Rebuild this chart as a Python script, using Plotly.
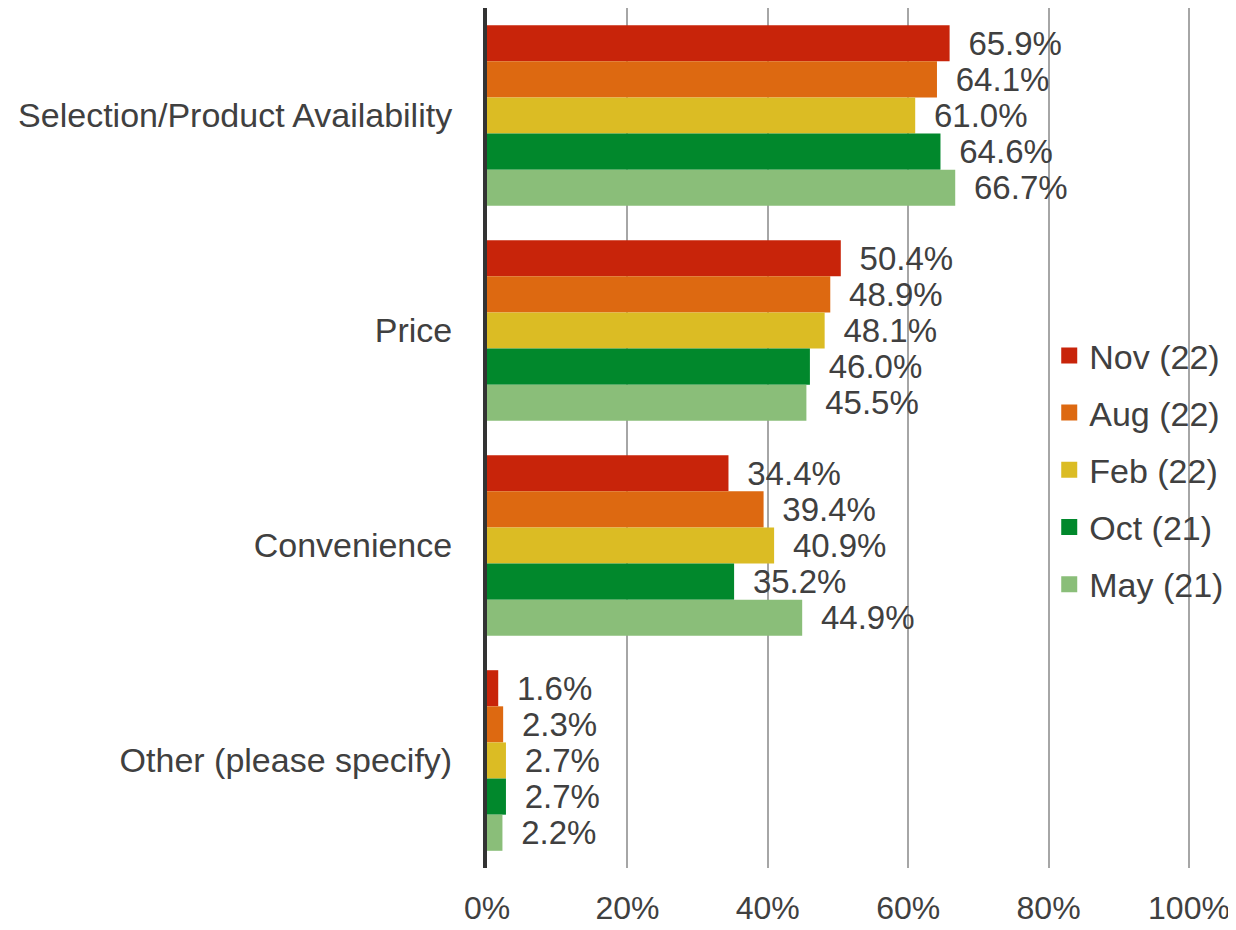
import plotly.graph_objects as go

categories = ["Selection/Product Availability", "Price", "Convenience", "Other (please specify)"]
series_names = ["Nov (22)", "Aug (22)", "Feb (22)", "Oct (21)", "May (21)"]
nov_22 = [65.9, 50.4, 34.4, 1.6]
aug_22 = [64.1, 48.9, 39.4, 2.3]
feb_22 = [61.0, 48.1, 40.9, 2.7]
oct_21 = [64.6, 46.0, 35.2, 2.7]
may_21 = [66.7, 45.5, 44.9, 2.2]
x_ticks = [0, 20, 40, 60, 80, 100]
x_tick_labels = ["0%", "20%", "40%", "60%", "80%", "100%"]

series_values = [nov_22, aug_22, feb_22, oct_21, may_21]
colors = ["#C8240A", "#DD6911", "#DBBC24", "#01882C", "#8ABE79"]
font_family = "Arial, Liberation Sans, sans-serif"
text_color = "#404040"
fsize = 33

fig = go.Figure()
for name, vals, col in zip(series_names, series_values, colors):
    fig.add_trace(go.Bar(
        y=categories, x=vals, name=name, orientation="h",
        marker=dict(color=col, line=dict(width=0)),
        text=vals,
        texttemplate="\u00a0\u2009%{x:.1f}%",
        textposition="outside",
        constraintext="none",
        cliponaxis=False,
        textfont=dict(size=fsize, color=text_color, family=font_family),
        showlegend=False,
        hoverinfo="skip",
    ))

# legend entries with bigger square swatches
for name, col in zip(series_names, colors):
    fig.add_trace(go.Scatter(
        x=[None], y=[None], mode="markers", name=name, legendgroup=name,
        marker=dict(symbol="square", size=16, color=col),
    ))

# page body adds an 8px offset, so the figure is drawn 8px smaller
fig.update_layout(
    width=1228, height=922,
    barmode="group", bargap=0.16, bargroupgap=0,
    plot_bgcolor="white", paper_bgcolor="white",
    margin=dict(l=479, r=40, t=0, b=62),
    font=dict(family=font_family, color=text_color, size=fsize),
    showlegend=True,
    legend=dict(
        x=0.793, y=0.463, xanchor="left", yanchor="middle",
        bgcolor="rgba(0,0,0,0)", traceorder="grouped",
        font=dict(size=34, color=text_color),
        tracegroupgap=10, itemsizing="trace", itemwidth=30,
    ),
)
fig.update_xaxes(
    range=[0, 101], tickvals=x_ticks, ticktext=x_tick_labels,
    showgrid=True, gridcolor="#A6A6A6", gridwidth=2,
    zeroline=False, showline=False, automargin=False,
    ticks="outside", ticklen=12, tickcolor="rgba(0,0,0,0)",
    tickfont=dict(size=32, color=text_color),
)
fig.update_yaxes(
    autorange="reversed", showgrid=False, automargin=False,
    showline=True, linecolor="#333333", linewidth=4,
    ticks="outside", ticklen=24, tickcolor="rgba(0,0,0,0)",
    tickfont=dict(size=34, color=text_color),
)

fig.write_html("out.html")
